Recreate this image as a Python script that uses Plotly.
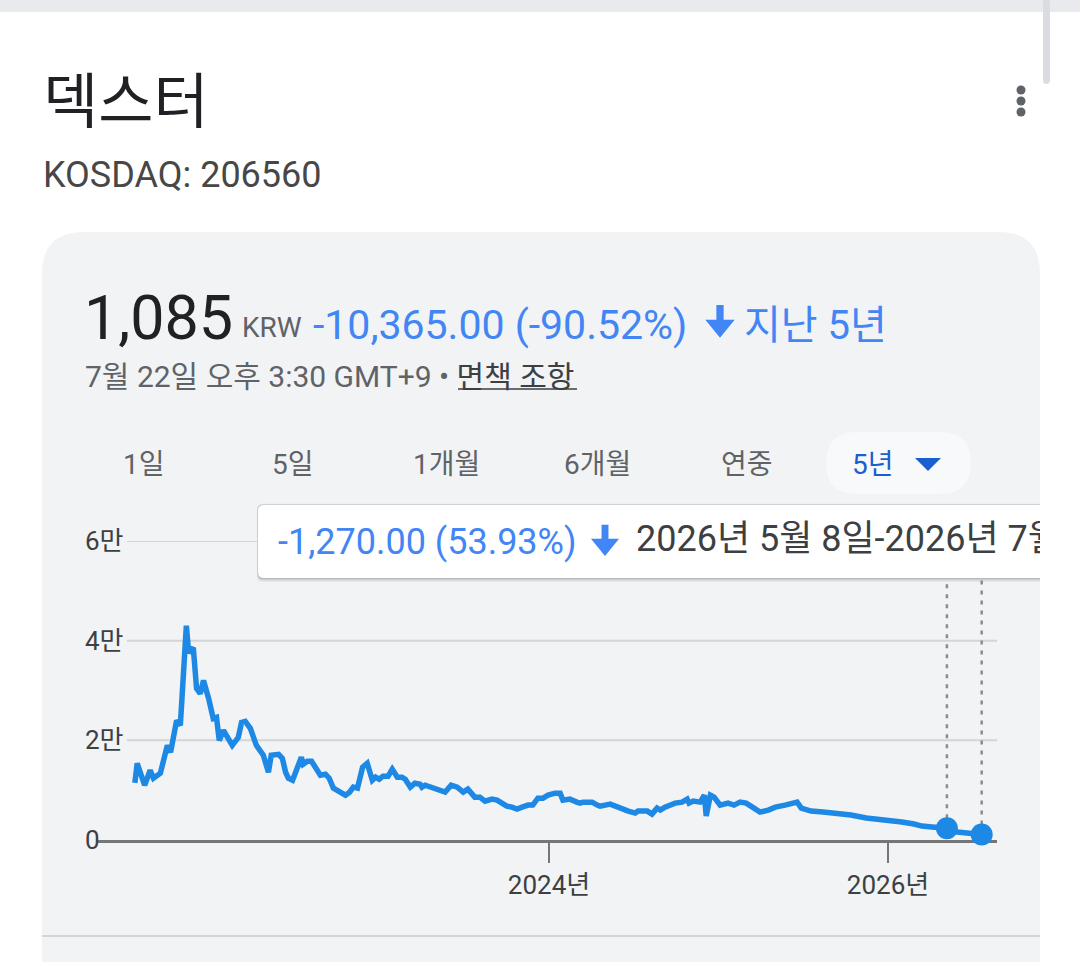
import plotly.graph_objects as go

W, H = 1080, 962
FONT = "Roboto, 'Noto Sans CJK KR', sans-serif"
KFONT = "'Noto Sans CJK KR', Roboto, sans-serif"

# ---------------- data (KOSDAQ 206560, 5-year daily close, KRW) ----------------
dates_2021 = ["2021-07-22", "2021-07-27", "2021-08-12", "2021-08-24", "2021-08-31", "2021-09-15",
              "2021-09-30", "2021-10-07", "2021-10-20", "2021-10-28", "2021-11-10", "2021-11-15",
              "2021-11-25", "2021-12-02", "2021-12-10", "2021-12-17", "2021-12-28"]
prices_2021 = [11450, 15400, 11000, 14000, 12400, 13400, 19000, 17600, 24000, 23000, 43000, 37600,
               38600, 30400, 29400, 32000, 28400]

dates_2022 = ["2022-01-07", "2022-01-14", "2022-01-20", "2022-01-29", "2022-02-09", "2022-02-17",
              "2022-03-02", "2022-03-09", "2022-03-17", "2022-03-28", "2022-04-10", "2022-04-25",
              "2022-05-06", "2022-05-12", "2022-05-28", "2022-06-05", "2022-06-12", "2022-06-18",
              "2022-06-27", "2022-07-07", "2022-07-16", "2022-07-20", "2022-07-29", "2022-08-07",
              "2022-08-17", "2022-08-26", "2022-09-06", "2022-09-14", "2022-09-23", "2022-10-04",
              "2022-10-19", "2022-10-28", "2022-11-05", "2022-11-14", "2022-11-25", "2022-12-05",
              "2022-12-16", "2022-12-23", "2022-12-31"]
prices_2022 = [24400, 24600, 20000, 22000, 20400, 19000, 20600, 23600, 23800, 22400, 19000, 17000,
               13600, 17000, 17200, 16400, 13600, 12400, 12000, 14400, 16600, 15200, 15800, 15800,
               14200, 13000, 13200, 12400, 10400, 9800, 9000, 9600, 10600, 10400, 14600, 15400,
               12000, 12600, 12200]

dates_2023 = ["2023-01-08", "2023-01-19", "2023-01-28", "2023-02-08", "2023-02-18", "2023-02-25",
              "2023-03-08", "2023-03-18", "2023-03-29", "2023-04-02", "2023-04-09", "2023-04-24",
              "2023-05-07", "2023-05-22", "2023-06-04", "2023-06-17", "2023-06-30", "2023-07-10",
              "2023-07-25", "2023-08-05", "2023-08-16", "2023-08-31", "2023-09-11", "2023-09-22",
              "2023-10-02", "2023-10-13", "2023-10-24", "2023-11-04", "2023-11-17", "2023-11-27",
              "2023-12-08", "2023-12-19", "2023-12-30"]
prices_2023 = [12800, 12800, 14200, 12600, 12600, 12200, 10600, 11400, 11200, 10600, 11000, 10600,
               10000, 9600, 11000, 10600, 9600, 10200, 8600, 8600, 7800, 8200, 8000, 7400,
               6800, 6600, 6200, 6600, 7000, 7000, 8400, 8400, 9000]

dates_2024 = ["2024-01-14", "2024-01-25", "2024-01-31", "2024-02-15", "2024-03-01", "2024-03-08",
              "2024-03-14", "2024-04-03", "2024-04-14", "2024-04-20", "2024-05-12", "2024-05-27",
              "2024-06-07", "2024-06-20", "2024-07-05", "2024-07-11", "2024-07-31", "2024-08-10",
              "2024-08-21", "2024-08-28", "2024-09-07", "2024-09-18", "2024-09-29", "2024-10-14",
              "2024-10-25", "2024-10-29", "2024-11-07", "2024-11-22", "2024-12-01", "2024-12-05",
              "2024-12-14", "2024-12-22"]
prices_2024 = [9400, 9400, 8000, 8200, 7600, 7400, 7600, 7600, 7000, 6800, 7200, 6600,
               6400, 5800, 5400, 5800, 5800, 5200, 6400, 6000, 6600, 7000, 7400, 7600,
               8200, 7400, 7800, 7600, 9000, 4800, 9000, 8600]

dates_2025 = ["2025-01-04", "2025-01-21", "2025-02-03", "2025-02-16", "2025-03-01", "2025-03-18",
              "2025-03-31", "2025-04-18", "2025-05-03", "2025-05-24", "2025-06-19", "2025-06-28",
              "2025-07-19", "2025-08-14", "2025-09-09", "2025-10-13", "2025-11-15", "2025-12-11"]
prices_2025 = [7000, 7400, 7000, 7600, 7400, 6400, 5600, 6000, 6600, 7000, 7600, 6400,
               5800, 5600, 5400, 5000, 4400, 4200]

dates_2026 = ["2026-01-05", "2026-01-31", "2026-02-26", "2026-03-15", "2026-04-06", "2026-05-08",
              "2026-05-30", "2026-06-24", "2026-07-22"]
prices_2026 = [3800, 3600, 3200, 2800, 2600, 2355, 1600, 1400, 1085]

selected_dates = ["2026-05-08", "2026-07-22"]
selected_prices = [2355, 1085]

y_tick_vals = [0, 20000, 40000, 60000]
y_tick_text = ["0", "2만", "4만", "6만"]
x_tick_vals = ["2024-01-01", "2026-01-01"]
x_tick_text = ["2024년", "2026년"]
tab_labels = ["1일", "5일", "1개월", "6개월", "연중", "5년"]

dates = dates_2021 + dates_2022 + dates_2023 + dates_2024 + dates_2025 + dates_2026
prices = prices_2021 + prices_2022 + prices_2023 + prices_2024 + prices_2025 + prices_2026

# ---------------- helpers ----------------
def px(x):
    return x / W


def py(y):
    return 1 - y / H


def path(cmds):
    out = []
    for c in cmds:
        if c[0] == "Z":
            out.append("Z")
        else:
            nums = c[1:]
            pts = []
            for i in range(0, len(nums), 2):
                pts.append(f"{px(nums[i]):.5f},{py(nums[i + 1]):.5f}")
            out.append(c[0] + " " + " ".join(pts))
    return " ".join(out)


def arrow_path(cx, cy, s):
    # bold down arrow: shaft + filled head, offsets in px scaled by s
    pts = [(-3.2, -15), (3.2, -15), (3.2, -2), (13, -2), (0, 14), (-13, -2), (-3.2, -2)]
    cmds = []
    for i, (u, v) in enumerate(pts):
        cmds.append(("M" if i == 0 else "L", cx + u * s, cy + v * s))
    cmds.append(("Z",))
    return path(cmds)


LINE_BLUE = "#1e88e5"
TEXT_BLUE = "#4285f4"
TAB_BLUE = "#1a5fd0"
CARD = "#f1f3f4"

fig = go.Figure()

fig.add_trace(go.Scatter(
    x=dates, y=prices, mode="lines",
    line=dict(color=LINE_BLUE, width=5.5), hoverinfo="skip", showlegend=False,
))
fig.add_trace(go.Scatter(
    x=selected_dates, y=selected_prices, mode="markers",
    marker=dict(size=22, color=LINE_BLUE), cliponaxis=False,
    hoverinfo="skip", showlegend=False,
))
# tooltip date text, clipped at card edge via its own subplot
fig.add_trace(go.Scatter(
    x=[0], y=[0.5], xaxis="x2", yaxis="y2", mode="text",
    text=["2026년 5월 8일-2026년 7월 22일"], textposition="middle right",
    textfont=dict(size=36, color="#3c4043", family=FONT),
    cliponaxis=True, hoverinfo="skip", showlegend=False,
))

shapes = []
# page chrome
shapes.append(dict(type="rect", xref="paper", yref="paper", x0=0, x1=1, y0=py(12), y1=1,
                   fillcolor="#e8eaed", line=dict(width=0), layer="below"))
shapes.append(dict(type="path", xref="paper", yref="paper",
                   path=path([("M", 1043, 0), ("L", 1050, 0), ("L", 1050, 80), ("Q", 1050, 84, 1046.5, 84),
                              ("Q", 1043, 84, 1043, 80), ("Z",)]),
                   fillcolor="#dadce0", line=dict(width=0), layer="below"))
for yy in (90, 101, 112):
    shapes.append(dict(type="circle", xref="paper", yref="paper",
                       x0=px(1016.5), x1=px(1025.5), y0=py(yy + 4.5), y1=py(yy - 4.5),
                       fillcolor="#5f6368", line=dict(width=0), layer="below"))
# card
shapes.append(dict(type="path", xref="paper", yref="paper",
                   path=path([("M", 42, 1000), ("L", 42, 274), ("Q", 42, 232, 84, 232), ("L", 998, 232),
                              ("Q", 1040, 232, 1040, 274), ("L", 1040, 1000), ("Z",)]),
                   fillcolor=CARD, line=dict(width=0), layer="below"))
shapes.append(dict(type="line", xref="paper", yref="paper", x0=px(42), x1=px(1040), y0=py(936), y1=py(936),
                   line=dict(color="#d2d4d6", width=2), layer="below"))
# header arrow
shapes.append(dict(type="path", xref="paper", yref="paper", path=arrow_path(720, 322, 1.13),
                   fillcolor=TEXT_BLUE, line=dict(width=0), layer="below"))
# underline under 면책 조항
shapes.append(dict(type="line", xref="paper", yref="paper", x0=px(458), x1=px(577), y0=py(389), y1=py(389),
                   line=dict(color="#3c4043", width=1.5), layer="below"))
# active tab pill
shapes.append(dict(type="path", xref="paper", yref="paper",
                   path=path([("M", 857, 432), ("L", 940, 432), ("Q", 971, 432, 971, 463), ("Q", 971, 494, 940, 494),
                              ("L", 857, 494), ("Q", 826, 494, 826, 463), ("Q", 826, 432, 857, 432), ("Z",)]),
                   fillcolor="#f8f9fa", line=dict(width=0), layer="below"))
shapes.append(dict(type="path", xref="paper", yref="paper",
                   path=path([("M", 915, 458), ("L", 941, 458), ("L", 928, 471), ("Z",)]),
                   fillcolor=TAB_BLUE, line=dict(width=0), layer="below"))
# tooltip with shadow
for off, alpha in ((4, 0.05), (2.5, 0.08), (1.2, 0.12)):
    shapes.append(dict(type="path", xref="paper", yref="paper",
                       path=path([("M", 264 - off * 0.3, 505 - off * 0.3), ("L", 1040, 505 - off * 0.3),
                                  ("L", 1040, 578 + off), ("L", 264 - off * 0.3, 578 + off),
                                  ("Q", 258 - off * 0.3, 578 + off, 258 - off * 0.3, 572 + off),
                                  ("L", 258 - off * 0.3, 511 - off * 0.3),
                                  ("Q", 258 - off * 0.3, 505 - off * 0.3, 264 - off * 0.3, 505 - off * 0.3), ("Z",)]),
                       fillcolor=f"rgba(0,0,0,{alpha})", line=dict(width=0), layer="below"))
shapes.append(dict(type="path", xref="paper", yref="paper",
                   path=path([("M", 264, 505), ("L", 1040, 505), ("L", 1040, 578), ("L", 264, 578),
                              ("Q", 258, 578, 258, 572), ("L", 258, 511), ("Q", 258, 505, 264, 505), ("Z",)]),
                   fillcolor="#ffffff", line=dict(width=0), layer="below"))
shapes.append(dict(type="path", xref="paper", yref="paper", path=arrow_path(605, 541, 1.08),
                   fillcolor=TEXT_BLUE, line=dict(width=0), layer="below"))
# gridlines
for v in y_tick_vals[1:]:
    x_end = 258 if v == 60000 else 997
    shapes.append(dict(type="line", xref="paper", yref="y", x0=px(127), x1=px(x_end), y0=v, y1=v,
                       line=dict(color="#d4d5d7", width=2), layer="below"))
# selection guide lines
for d, v in zip(selected_dates, selected_prices):
    shapes.append(dict(type="line", xref="x", yref="y", x0=d, x1=d, y0=v, y1=52400,
                       line=dict(color="#8c8c8c", width=2.5, dash="4px,6px"), layer="below"))

annotations = []


def ann(text, x, y, size, color, xanchor="left", yanchor="middle", family=FONT, **kw):
    d = dict(text=text, x=px(x), y=py(y), xref="paper", yref="paper", showarrow=False,
             xanchor=xanchor, yanchor=yanchor, font=dict(size=size, color=color, family=family))
    d.update(kw)
    annotations.append(d)


ann("덱스터", 41, 96, 60, "#202124", family=KFONT)
ann("KOSDAQ: 206560", 41, 175, 36, "#474747")
ann("1,085", 82, 318, 61, "#202124")
ann("KRW", 240, 327, 28, "#5f6368")
ann("-10,365.00 (-90.52%)", 311, 325, 41, TEXT_BLUE)
ann("지난 5년", 742, 325, 40, TEXT_BLUE)
ann("7월 22일 오후 3:30 GMT+9 • <span style='color:#3c4043'>면책 조항</span>", 83, 376, 30, "#5f6368")

tab_centers = [144, 293, 446, 597, 747, 873]
for lbl, cx in zip(tab_labels, tab_centers):
    ann(lbl, cx, 464, 28, TAB_BLUE if lbl == "5년" else "#5f6368", xanchor="center")

ann("-1,270.00 (53.93%)", 276, 542, 36, TEXT_BLUE)

for v, t in zip(y_tick_vals, y_tick_text):
    annotations.append(dict(text=t, x=px(83), y=v, xref="paper", yref="y", showarrow=False,
                            xanchor="left", yanchor="middle",
                            font=dict(size=26, color="#3c4043", family=FONT)))

fig.update_layout(
    width=W, height=H,
    margin=dict(l=0, r=0, t=0, b=0),
    paper_bgcolor="#ffffff",
    plot_bgcolor="rgba(0,0,0,0)",
    showlegend=False,
    shapes=shapes,
    annotations=annotations,
    xaxis=dict(
        domain=[px(98), px(997)], type="date",
        range=["2021-05-03 12:00", "2026-08-24"],
        showgrid=False, zeroline=False,
        showline=True, linecolor="#767676", linewidth=2.5,
        ticks="outside", ticklen=20, tickwidth=2, tickcolor="#767676",
        tickvals=x_tick_vals, ticktext=x_tick_text,
        tickfont=dict(size=26, color="#3c4043", family=FONT),
        layer="below traces", fixedrange=True,
    ),
    yaxis=dict(
        domain=[py(840), py(541)], range=[0, 60000],
        showgrid=False, zeroline=False, showline=False, showticklabels=False,
        fixedrange=True,
    ),
    xaxis2=dict(domain=[px(258), px(1040)], range=[-378, 404], visible=False,
                anchor="y2", fixedrange=True),
    yaxis2=dict(domain=[py(578), py(505)], range=[0, 1], visible=False,
                anchor="x2", fixedrange=True),
)

fig.write_html("out.html")
